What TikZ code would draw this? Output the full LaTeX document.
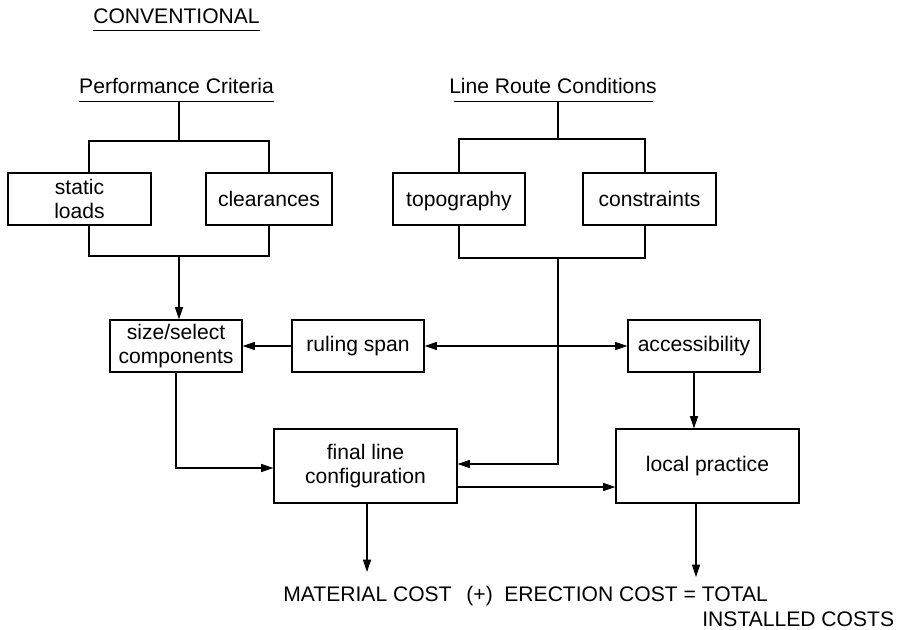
\documentclass[tikz,border=0pt]{standalone}
\usepackage{fontspec}
\setmainfont{Liberation Sans}
\usetikzlibrary{arrows.meta}

\begin{document}
\begin{tikzpicture}[
        box/.style={draw, line width=0.7pt, minimum height=1.04cm,
            align=center, inner sep=2pt},
        hdr/.style={anchor=base, inner xsep=0pt, inner ysep=0pt, text depth=4pt},
        link/.style={line width=0.6pt},
        arr/.style={link, -{Triangle[length=7pt, width=4.6pt]}},
        arrs/.style={link, {Triangle[length=7pt, width=4.6pt]}-{Triangle[length=7pt, width=4.6pt]}},
        font=\fontsize{12}{14}\selectfont
    ]
    \useasboundingbox (0,0) rectangle (17.96,12.58);

    \node[hdr] (conv) at (3.53, 12.11) {CONVENTIONAL};
    \node[hdr] (perf) at (3.53, 10.70) {Performance Criteria};
    \node[hdr] (route) at (11.06, 10.70) {Line Route Conditions};
    \draw[link] (conv.south west) -- (conv.south east);
    \draw[link] (perf.south west) -- (perf.south east);
    \draw[link] ([xshift=0.1cm]route.south west) -- ([xshift=-0.08cm]route.south east);

    \node[box, minimum width=2.86cm] (sl) at (1.59, 8.60) {static\\loads};
    \node[box, minimum width=2.52cm] (cl) at (5.38, 8.60) {clearances};
    \node[box, minimum width=2.64cm, text depth=0pt] (topo) at (9.18, 8.60) {topography};
    \node[box, minimum width=2.66cm] (cons) at (12.99, 8.60) {constraints};
    \node[box, minimum width=2.64cm] (ss) at (3.52, 5.66) {size/select\\components};
    \node[box, minimum width=2.64cm] (rs) at (7.16, 5.66) {ruling span};
    \node[box, minimum width=2.64cm] (acc) at (13.88, 5.66) {accessibility};
    \node[box, minimum width=3.66cm, minimum height=1.48cm] (flc) at (7.31, 3.26)
        {final line\\configuration};
    \node[box, minimum width=3.66cm, minimum height=1.48cm] (lp) at (14.15, 3.26)
        {local practice};

    \node[anchor=base west, inner sep=0pt] (cost) at (5.66, 0.55)
        {MATERIAL COST\hspace{0.7em}(+)\hspace{0.55em}ERECTION COST = TOTAL};
    \node[anchor=base west, inner sep=0pt] (inst) at (14.04, 0.06) {INSTALLED COSTS};

    \coordinate (pt) at (3.58, 9.76);
    \coordinate (pb) at (3.58, 7.46);
    \coordinate (rt) at (11.16, 9.80);
    \coordinate (rb) at (11.16, 7.42);
    \coordinate (me) at (7.34, 1.14);
    \coordinate (te) at (13.92, 1.04);

    \draw[link] (pt |- perf.south) -- (pt);
    \draw[link] ([xshift=0.19cm]sl.north) |- (pt) -| (cl.north);
    \draw[link] ([xshift=0.19cm]sl.south) |- (pb) -| (cl.south);
    \draw[arr] (pb) -- (pb |- ss.north);

    \draw[link] (rt |- route.south) -- (rt);
    \draw[link] (topo.north) |- (rt) -| ([xshift=-0.09cm]cons.north);
    \draw[link] (topo.south) |- (rb) -| ([xshift=-0.09cm]cons.south);
    \draw[arr] (rb) |- ([yshift=0.04cm]flc.east);

    \draw[arr] (rs.west) -- (ss.east);
    \draw[arrs] (rs.east) -- (acc.west);
    \draw[arr] (ss.south) |- ([yshift=-0.04cm]flc.west);
    \draw[arr] (acc.south) -- (acc.south |- lp.north);
    \draw[arr] ([yshift=-0.42cm]flc.east) -- ([yshift=-0.42cm]lp.west);
    \draw[arr] (me |- flc.south) -- (me);
    \draw[arr] (te |- lp.south) -- (te);
\end{tikzpicture}
\end{document}
